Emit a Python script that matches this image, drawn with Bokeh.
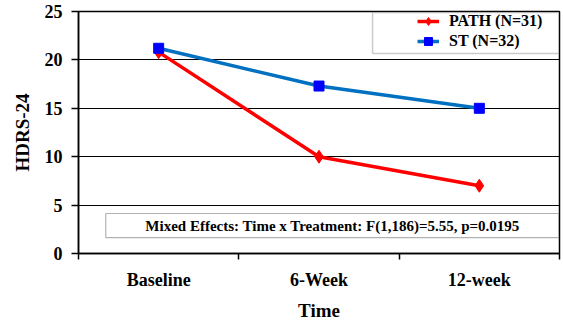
from bokeh.plotting import figure
from bokeh.models import (Range1d, FixedTicker, BoxAnnotation, Label, Legend)
from bokeh.embed import file_html
from bokeh.resources import INLINE

times = ["Baseline", "6-Week", "12-week"]
path_vals = [20.8, 10.0, 7.0]
st_vals = [21.2, 17.3, 15.0]
y_ticks = [0, 5, 10, 15, 20, 25]
path_label = "PATH (N=31)"
st_label = "ST (N=32)"
note = "Mixed Effects: Time x Treatment: F(1,186)=5.55, p=0.0195"

FONT = "Liberation Serif"

# category centres on a numeric axis (one unit per category)
xpos = [i + 0.5 for i in range(len(times))]

p = figure(width=563, height=324, output_backend="svg", toolbar_location=None,
           x_range=Range1d(0, len(times)), y_range=Range1d(0, 25),
           background_fill_color="white",
           min_border_left=78, min_border_top=11, min_border_bottom=71, min_border_right=4)

p.outline_line_color = "black"
p.outline_line_width = 1.5

xaxis = p.xaxis[0]
xaxis.ticker = FixedTicker(ticks=xpos, minor_ticks=list(range(len(times) + 1)))
xaxis.major_label_overrides = {c: t for c, t in zip(xpos, times)}
xaxis.major_tick_line_color = None
xaxis.major_tick_out = 0
xaxis.major_tick_in = 0
xaxis.minor_tick_out = 6
xaxis.minor_tick_in = 0
xaxis.minor_tick_line_color = "black"
xaxis.minor_tick_line_width = 1.5
xaxis.axis_line_color = "black"
xaxis.axis_line_width = 1.5
xaxis.axis_label = "Time"
xaxis.axis_label_text_font = FONT
xaxis.axis_label_text_font_style = "bold"
xaxis.axis_label_text_font_size = "19px"
xaxis.axis_label_text_color = "black"
xaxis.axis_label_standoff = 7
xaxis.major_label_text_font = FONT
xaxis.major_label_text_font_style = "bold"
xaxis.major_label_text_font_size = "18px"
xaxis.major_label_standoff = 10
xaxis.major_label_text_color = "black"

yaxis = p.yaxis[0]
yaxis.ticker = FixedTicker(ticks=y_ticks)
yaxis.axis_label = "HDRS-24"
yaxis.axis_label_text_font = FONT
yaxis.axis_label_text_font_style = "bold"
yaxis.axis_label_text_font_size = "19px"
yaxis.axis_label_text_color = "black"
yaxis.axis_label_standoff = 9
yaxis.major_label_text_font = FONT
yaxis.major_label_text_font_style = "bold"
yaxis.major_label_text_font_size = "18px"
yaxis.major_label_text_color = "black"
yaxis.major_label_standoff = 9
yaxis.major_tick_out = 7
yaxis.major_tick_in = 0
yaxis.major_tick_line_width = 1.5
yaxis.minor_tick_line_color = None
yaxis.axis_line_width = 1.5
yaxis.axis_line_color = "black"

p.ygrid.ticker = FixedTicker(ticks=y_ticks[1:-1])
p.ygrid.grid_line_color = "black"
p.ygrid.grid_line_width = 1.2
p.xgrid.visible = False

# annotation box and legend box
note_box = BoxAnnotation(left=0.17, right=2.995, bottom=1.65, top=4.13,
                         fill_color="white", fill_alpha=1, line_color="black", line_width=1.2,
                         level="underlay")
p.add_layout(note_box)
p.add_layout(Label(x=1.585, y=2.88, text=note, text_align="center", text_baseline="middle",
                   text_font=FONT, text_font_style="bold", text_font_size="15px",
                   text_color="black"))

leg_box = BoxAnnotation(left=1.834, right=2.995, bottom=20.66, top=24.9,
                        fill_color="white", fill_alpha=1, line_color="#555555", line_width=1.5,
                        level="underlay")
p.add_layout(leg_box)

# series
r1 = p.line(xpos, path_vals, line_color="#FF0000", line_width=3.5)
r2 = p.scatter(xpos, path_vals, marker="diamond", size=13, fill_color="#FF0000",
               line_color="#FF0000")
r3 = p.line(xpos, st_vals, line_color="#0070C0", line_width=3.5)
r4 = p.scatter(xpos, st_vals, marker="square", size=10, fill_color="#0000FF",
               line_color="#0000FF")

legend = Legend(items=[(path_label, [r1, r2]), (st_label, [r3, r4])],
                location="top_right", margin=0, padding=7, spacing=0,
                glyph_width=22, glyph_height=20, label_height=20, label_width=110,
                label_standoff=10, border_line_color=None, background_fill_alpha=0,
                label_text_font=FONT, label_text_font_style="bold",
                label_text_font_size="16px", label_text_color="black")
p.add_layout(legend)

open("out.html", "w").write(file_html(p, INLINE))
